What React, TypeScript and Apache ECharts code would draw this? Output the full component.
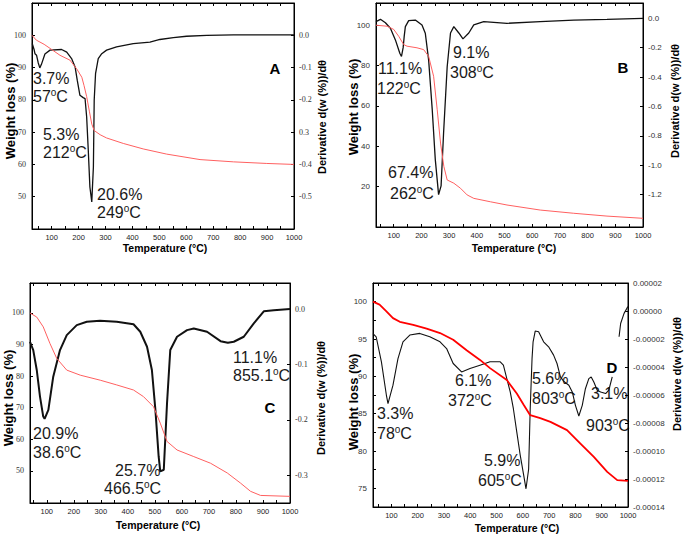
import React, { useEffect, useRef } from "react";
import * as echarts from "echarts";

// Shared tick values (°C)
const xLabelValues = [100, 200, 300, 400, 500, 600, 700, 800, 900, 1000];
const xTickValues = [50, 100, 150, 200, 250, 300, 350, 400, 450, 500, 550, 600, 650, 700, 750, 800, 850, 900, 950, 1000];

// Panel A: [temperature °C, weight %] and [temperature °C, derivative]
const aTG = [[27, 100], [43, 98.5], [72, 97.2], [100, 95.6], [131, 93.8], [168, 92.3], [193, 89.6], [212, 87.0], [220, 84.5], [230, 81.0], [240, 76.5], [249, 72.5], [258, 70.5], [280, 69.2], [304, 68.2], [366, 66.5], [440, 64.8], [527, 63.2], [651, 61.5], [775, 60.8], [899, 60.3], [1000, 60.0]];
const aDTG = [[28, -0.026], [35, -0.045], [38, -0.057], [44, -0.062], [50, -0.085], [56, -0.101], [62, -0.09], [75, -0.058], [94, -0.046], [137, -0.044], [156, -0.052], [174, -0.072], [187, -0.098], [195, -0.139], [205, -0.186], [217, -0.193], [224, -0.196], [230, -0.253], [236, -0.356], [242, -0.47], [249, -0.516], [255, -0.408], [258, -0.201], [263, -0.119], [273, -0.072], [286, -0.057], [304, -0.046], [341, -0.036], [403, -0.026], [465, -0.021], [502, -0.013], [552, -0.007], [601, -0.003], [676, 0], [775, 0.001], [1000, 0.001]];
const aLeftTicks = [50, 60, 70, 80, 90, 100];
const aRightTicks = [0, -0.1, -0.2, -0.3, -0.4, -0.5];

// Panel B
const bTG = [[36, 100], [76, 99.5], [100, 97.9], [118, 94.5], [136, 90.4], [148, 89.6], [184, 88.8], [208, 87.9], [226, 84.6], [244, 74.7], [257, 58.1], [269, 41.6], [281, 30], [293, 23.3], [317, 21.7], [341, 19.2], [365, 15.9], [389, 14.2], [449, 12.5], [509, 10.9], [629, 8.4], [750, 6.8], [870, 5.4], [1000, 4.3]];
const bDTG = [[36, -0.023], [52, -0.007], [70, -0.03], [88, -0.068], [106, -0.147], [122, -0.238], [128, -0.26], [134, -0.2], [138, -0.12], [142, -0.057], [154, -0.016], [178, -0.012], [202, -0.045], [214, -0.102], [226, -0.283], [239, -0.62], [250, -0.96], [262, -1.2], [271, -1.14], [280, -0.78], [293, -0.33], [305, -0.1], [317, -0.057], [335, -0.1], [350, -0.14], [371, -0.1], [389, -0.045], [425, -0.023], [509, -0.034], [629, -0.023], [750, -0.012], [870, -0.007], [1000, 0]];
const bLeftTicks = [20, 40, 60, 80, 100];
const bRightTicks = [0, -0.2, -0.4, -0.6, -0.8, -1.0, -1.2];

// Panel C
const cTG = [[38, 100], [63, 98.7], [87, 95.6], [112, 90.3], [137, 85.6], [174, 81.9], [224, 80.3], [298, 78.7], [359, 77.2], [421, 75.6], [458, 73.5], [495, 70.3], [520, 65.1], [545, 59.3], [582, 56.6], [644, 54.5], [706, 52.4], [768, 49.3], [817, 46.1], [854, 43.5], [891, 42.2], [1000, 41.9]];
const cDTG = [[38, -0.059], [50, -0.074], [63, -0.11], [75, -0.158], [87, -0.194], [92, -0.198], [106, -0.182], [124, -0.122], [149, -0.074], [174, -0.047], [211, -0.029], [248, -0.023], [297, -0.021], [359, -0.023], [421, -0.0275], [446, -0.041], [471, -0.068], [489, -0.11], [502, -0.182], [514, -0.266], [520, -0.293], [533, -0.29], [545, -0.17], [557, -0.074], [582, -0.05], [619, -0.038], [644, -0.035], [693, -0.041], [743, -0.058], [770, -0.061], [792, -0.059], [829, -0.05], [866, -0.026], [903, -0.004], [940, -0.002], [1000, 0]];
const cLeftTicks = [50, 60, 70, 80, 90, 100];
const cRightTicks = [0, -0.1, -0.2, -0.3];

// Panel D
const dTG = [[30, 100], [55, 99.6], [81, 98.7], [106, 97.8], [132, 97.3], [183, 96.9], [234, 96.4], [285, 95.8], [335, 94.9], [386, 93.5], [437, 92.2], [475, 91.1], [539, 89.5], [577, 87.7], [603, 86.2], [628, 84.8], [666, 84.4], [705, 83.9], [768, 82.8], [819, 81], [870, 79.2], [921, 77.2], [959, 76.1], [1000, 76]];
const dDTG = [[30, -1.61e-5], [42, -1.84e-5], [62, -3.63e-5], [81, -6.02e-5], [87, -6.62e-5], [106, -5.3e-5], [125, -3.4e-5], [144, -2.2e-5], [170, -1.72e-5], [208, -1.6e-5], [246, -1.84e-5], [285, -2.2e-5], [310, -2.68e-5], [335, -3.75e-5], [367, -4.35e-5], [399, -4.11e-5], [437, -3.87e-5], [475, -3.63e-5], [514, -3.63e-5], [526, -3.87e-5], [539, -4.83e-5], [552, -5.78e-5], [564, -6.98e-5], [577, -8.65e-5], [590, -1.03e-4], [603, -1.17e-4], [612, -1.27e-4], [622, -1.13e-4], [628, -6.98e-5], [635, -3.4e-5], [639, -2.2e-5], [647, -1.43e-5], [660, -1.48e-5], [679, -2.2e-5], [698, -2.56e-5], [717, -3.15e-5], [730, -3.75e-5], [743, -4.71e-5], [755, -5.02e-5], [775, -5.3e-5], [788, -5.78e-5], [800, -6.74e-5], [813, -7.5e-5], [826, -6.74e-5], [838, -5.55e-5], [851, -4.83e-5], [860, -4.71e-5], [870, -5.07e-5], [883, -5.66e-5], [896, -5.78e-5], [915, -5.9e-5], [927, -5.66e-5], [940, -4.71e-5], [950, null], [966, -1.84e-5], [972, -8.9e-6], [985, -1.7e-6], [997, 2.4e-6], [1000, 3.1e-6]];
const dLeftTicks = [75, 80, 85, 90, 95, 100];
const dLeftMinor = [75, 77.5, 80, 82.5, 85, 87.5, 90, 92.5, 95, 97.5, 100];
const dRightTicks = [0.00002, 0, -0.00002, -0.00004, -0.00006, -0.00008, -0.0001, -0.00012, -0.00014];

// Peak annotations: [weight loss, temperature]
const aNotes = [["3.7%", "57"], ["5.3%", "212"], ["20.6%", "249"]];
const bNotes = [["11.1%", "122"], ["9.1%", "308"], ["67.4%", "262"]];
const cNotes = [["20.9%", "38.6"], ["25.7%", "466.5"], ["11.1%", "855.1"]];
const dNotes = [["3.3%", "78"], ["6.1%", "372"], ["5.9%", "605"], ["5.6%", "803"], ["3.1%", "903"]];
const panelLetters = ["A", "B", "C", "D"];

const SANS = "'Liberation Sans', Arial, sans-serif";
const SERIF = "'Liberation Serif', 'Times New Roman', serif";

function fmt1(v: number) {
  if (Math.abs(v) < 1e-9) return "0.0";
  return v.toFixed(1);
}

export default function App() {
  const ref = useRef<HTMLDivElement>(null);

  useEffect(() => {
    if (!ref.current) return;
    const chart = echarts.init(ref.current, undefined, { renderer: "svg" });

    const panels = [
      {
        grid: { left: 32, top: 3, width: 262, height: 226 }, xmin: 27,
        lmin: 40, lmax: 110, rmin: -0.6, rmax: 0.1,
        lt: aLeftTicks, ltMinor: aLeftTicks, rt: aRightTicks,
        rfmt: (v: number) => { const s = fmt1(v); return s === "-0.3" ? "0.3" : s; },
        yFont: SERIF, tg: aTG, dtg: aDTG, red: "#ff6060", redW: 1, blackW: 1.3,
      },
      {
        grid: { left: 376, top: 3, width: 267, height: 224 }, xmin: 36,
        lmin: 0, lmax: 111, rmin: -1.42, rmax: 0.104,
        lt: bLeftTicks, ltMinor: bLeftTicks, rt: bRightTicks, rfmt: fmt1,
        yFont: SANS, tg: bTG, dtg: bDTG, red: "#ff6060", redW: 1, blackW: 1.3,
      },
      {
        grid: { left: 30, top: 283, width: 260, height: 220 }, xmin: 38,
        lmin: 39.8, lmax: 109.5, rmin: -0.35, rmax: 0.047,
        lt: cLeftTicks, ltMinor: cLeftTicks, rt: cRightTicks, rfmt: fmt1,
        yFont: SERIF, tg: cTG, dtg: cDTG, red: "#ff6060", redW: 1, blackW: 2,
      },
      {
        grid: { left: 373, top: 283, width: 255, height: 224 }, xmin: 30,
        lmin: 72.5, lmax: 102.5, rmin: -0.00014, rmax: 0.00002,
        lt: dLeftTicks, ltMinor: dLeftMinor, rt: dRightTicks,
        rfmt: (v: number) => (Math.abs(v) < 1e-12 ? "0.00000" : v.toFixed(5)),
        yFont: SANS, tg: dTG, dtg: dDTG, red: "#ff0000", redW: 1.8, blackW: 1.1,
      },
    ];

    const grids: any[] = [];
    const xAxes: any[] = [];
    const yAxes: any[] = [];
    const series: any[] = [];

    panels.forEach((p, i) => {
      grids.push({ ...p.grid, show: true, borderColor: "#000", borderWidth: 1, backgroundColor: "transparent" });
      const xt = xTickValues.filter((v) => v >= p.xmin);
      const baseX = {
        gridIndex: i, type: "value", min: p.xmin, max: 1000,
        splitLine: { show: false },
      };
      xAxes.push({
        ...baseX, position: "bottom",
        axisLine: { show: true, onZero: false, lineStyle: { color: "#000", width: 1 } },
        axisTick: { show: true, inside: true, length: 3, customValues: xt, lineStyle: { color: "#000" } },
        axisLabel: {
          show: true, customValues: xLabelValues, formatter: (v: number) => String(Math.round(v)),
          fontFamily: SANS, fontSize: 7.5, color: "#222", margin: 4,
        },
      });
      xAxes.push({
        ...baseX, position: "top",
        axisLine: { show: true, onZero: false, lineStyle: { color: "#000", width: 1 } },
        axisTick: { show: true, inside: true, length: 3, customValues: xt, lineStyle: { color: "#000" } },
        axisLabel: { show: false },
      });
      yAxes.push({
        gridIndex: i, type: "value", position: "left", min: p.lmin, max: p.lmax,
        splitLine: { show: false },
        axisLine: { show: true, onZero: false, lineStyle: { color: "#000", width: 1 } },
        axisTick: { show: true, inside: true, length: 3, customValues: p.ltMinor, lineStyle: { color: "#000" } },
        axisLabel: {
          show: true, customValues: p.lt, formatter: (v: number) => String(Math.round(v)),
          fontFamily: p.yFont, fontSize: 8, color: "#333", margin: 6,
        },
      });
      yAxes.push({
        gridIndex: i, type: "value", position: "right", min: p.rmin, max: p.rmax,
        splitLine: { show: false },
        axisLine: { show: true, onZero: false, lineStyle: { color: "#000", width: 1 } },
        axisTick: { show: true, inside: true, length: 3, customValues: p.rt, lineStyle: { color: "#000" } },
        axisLabel: { show: true, customValues: p.rt, formatter: p.rfmt, fontFamily: p.yFont, fontSize: 8, color: "#333", margin: 5 },
      });
      series.push({
        type: "line", xAxisIndex: 2 * i, yAxisIndex: 2 * i + 1, data: p.dtg,
        showSymbol: false, symbol: "none", connectNulls: false,
        lineStyle: { color: "#111", width: p.blackW }, z: 2,
      });
      series.push({
        type: "line", xAxisIndex: 2 * i, yAxisIndex: 2 * i, data: p.tg,
        showSymbol: false, symbol: "none",
        lineStyle: { color: p.red, width: p.redW }, z: 3,
      });
    });

    const txtColor = "#1a1a1a";
    const note = (x: number, y: number, s: string, x2?: number, y2?: number, t?: string) => {
      const els: any[] = [
        {
          type: "text", x, y, silent: true,
          style: {
            text: s, fill: txtColor, fontSize: 16, fontFamily: SANS,
            textAlign: "left", align: "left", textVerticalAlign: "middle", verticalAlign: "middle",
          },
        },
      ];
      if (t !== undefined) {
        els.push({
          type: "text", x: x2, y: y2, silent: true,
          style: {
            text: `{n|${t}}{s|o}{n|C}`,
            rich: {
              n: { fontSize: 16, fontFamily: SANS, fill: txtColor, color: txtColor, lineHeight: 18 },
              s: { fontSize: 10, fontFamily: SANS, fill: txtColor, color: txtColor, lineHeight: 10, verticalAlign: "top", align: "left" },
            },
            textAlign: "left", align: "left", textVerticalAlign: "middle", verticalAlign: "middle",
          },
        });
      }
      return els;
    };

    // annotation layout (pixel positions of label blocks)
    const noteLayout: [number, number, number, number][][] = [
      [[33, 78, 33, 96], [43, 134, 43, 152], [97, 194, 97, 212]],
      [[378, 68, 377, 88], [453, 52, 450, 72], [388, 172, 390, 193]],
      [[33, 433, 33, 452], [115, 470, 104, 488], [233, 357, 233, 375]],
      [[377, 413, 377, 433], [455, 380, 448, 400], [484, 460, 478, 480], [532, 378, 532, 398], [591, 393, 586, 425]],
    ];
    const allNotes = [aNotes, bNotes, cNotes, dNotes];
    const graphic: any[] = [];
    allNotes.forEach((ns, pi) => {
      ns.forEach((n, k) => {
        const L = noteLayout[pi][k];
        graphic.push(...note(L[0], L[1], n[0], L[2], L[3], n[1]));
      });
    });

    const letterPos = [[275, 68], [623, 67], [270, 407], [612, 367]];
    panelLetters.forEach((l, i) => {
      graphic.push({
        type: "text", x: letterPos[i][0], y: letterPos[i][1], silent: true,
        style: {
          text: l, fill: "#000", fontSize: 15, fontWeight: "bold", fontFamily: SANS,
          textAlign: "center", align: "center", textVerticalAlign: "middle", verticalAlign: "middle",
        },
      });
    });

    const title = (x: number, y: number, text: string, size: number, rot: boolean) => ({
      type: "text", x, y, rotation: rot ? Math.PI / 2 : 0, silent: true,
      style: {
        text, fill: "#000", fontSize: size, fontWeight: "bold", fontFamily: SANS,
        textAlign: "center", align: "center", textVerticalAlign: "middle", verticalAlign: "middle",
      },
    });
    const titlePos = [
      { w: [10, 111], t: [165, 248], d: [322, 117] },
      { w: [353, 107], t: [514, 248], d: [675, 101] },
      { w: [8, 398], t: [158, 525], d: [321, 398] },
      { w: [353, 402], t: [517, 528], d: [677, 374] },
    ];
    titlePos.forEach((tp) => {
      graphic.push(title(tp.w[0], tp.w[1], "Weight loss (%)", 13, true));
      graphic.push(title(tp.t[0], tp.t[1], "Temperature (°C)", 10.5, false));
      graphic.push(title(tp.d[0], tp.d[1], "Derivative d(w (%))/dθ", 11, true));
    });

    chart.setOption({
      animation: false,
      backgroundColor: "#ffffff",
      grid: grids,
      xAxis: xAxes,
      yAxis: yAxes,
      series,
      graphic,
    });

    return () => chart.dispose();
  }, []);

  return (
    <div
      ref={ref}
      style={{ position: "fixed", left: 0, top: 0, width: 685, height: 540, background: "#fff" }}
    />
  );
}
